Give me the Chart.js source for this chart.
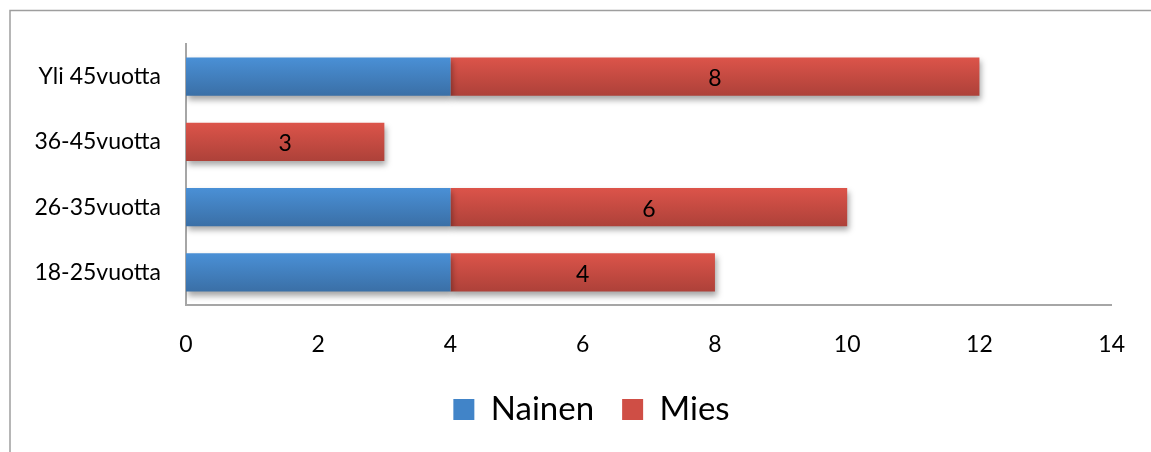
<!DOCTYPE html>
<html>
<head>
<meta charset="utf-8">
<script src="https://cdn.jsdelivr.net/npm/chart.js@4"></script>
<style>
  html, body { margin: 0; padding: 0; background: #fff; }
  #wrap { width: 1151px; height: 452px; }
</style>
</head>
<body>
<div id="wrap"><canvas id="c"></canvas></div>
<script>
// age groups, top to bottom as in the picture
var labels = ['Yli 45vuotta', '36-45vuotta', '26-35vuotta', '18-25vuotta'];
var nainen = [4, 0, 4, 4];
var mies = [8, 3, 6, 4];
var xTicks = [0, 2, 4, 6, 8, 10, 12, 14];

var BAR_PCT = 0.59;

// vertical gradient for each bar, worked out from the category scale
function barGradient(top, bottom) {
  return function(ctx) {
    var chart = ctx.chart;
    var y = chart.scales && chart.scales.y;
    if (!y || ctx.dataIndex === undefined) return top;
    var c = y.getPixelForValue(ctx.dataIndex);
    var h = (y.height / labels.length) * BAR_PCT / 2;
    var g = chart.ctx.createLinearGradient(0, c - h, 0, c + h);
    g.addColorStop(0, top);
    g.addColorStop(1, bottom);
    return g;
  };
}

// outer frame of the chart box
var framePlugin = {
  id: 'frame',
  beforeDraw: function(chart) {
    var ctx = chart.ctx;
    ctx.save();
    ctx.strokeStyle = '#9e9e9e';
    ctx.lineWidth = 1.5;
    ctx.strokeRect(10, 10.5, 2000, 2000);
    ctx.restore();
  }
};

// legend is centred on the whole frame, not the canvas, so nudge it right
var legendShift = {
  id: 'legendShift',
  afterLayout: function(chart) {
    if (!chart.legend) return;
    chart.legend.left += 26;
    chart.legend.right += 26;
  }
};

// soft shadow under the bars
var shadowPlugin = {
  id: 'barShadow',
  beforeDatasetsDraw: function(chart) {
    var ctx = chart.ctx;
    ctx.save();
    ctx.shadowColor = 'rgba(0,0,0,0.35)';
    ctx.shadowBlur = 6;
    ctx.shadowOffsetX = 2;
    ctx.shadowOffsetY = 4;
  },
  afterDatasetsDraw: function(chart) {
    chart.ctx.restore();
  }
};

// value labels on the Mies bars only
var valuePlugin = {
  id: 'values',
  afterDatasetsDraw: function(chart) {
    var ctx = chart.ctx;
    var meta = chart.getDatasetMeta(1);
    ctx.save();
    ctx.fillStyle = '#000';
    ctx.font = '23px Lato';
    ctx.textAlign = 'center';
    ctx.textBaseline = 'middle';
    meta.data.forEach(function(bar, i) {
      var v = mies[i];
      if (!v) return;
      var x = (bar.x + bar.base) / 2;
      ctx.fillText(String(v), x, bar.y + 2);
    });
    ctx.restore();
  }
};

new Chart(document.getElementById('c'), {
  type: 'bar',
  data: {
    labels: labels,
    datasets: [{
      label: 'Nainen',
      data: nainen,
      backgroundColor: barGradient('#4a90d6', '#3a6fa6')
    }, {
      label: 'Mies',
      data: mies,
      backgroundColor: barGradient('#dc544a', '#ad4139')
    }]
  },
  options: {
    indexAxis: 'y',
    responsive: true,
    maintainAspectRatio: false,
    animation: false,
    datasets: { bar: { categoryPercentage: 1, barPercentage: BAR_PCT, borderWidth: 0 } },
    layout: { padding: { left: 10, right: 30, top: 44, bottom: 16 } },
    plugins: {
      tooltip: { enabled: false },
      legend: {
        position: 'bottom',
        labels: {
          color: '#000',
          font: { family: 'Lato', size: 33 },
          boxWidth: 21,
          boxHeight: 21,
          padding: 28,
          generateLabels: function(chart) {
            var cols = ['#4184c8', '#cf4e45'];
            return chart.data.datasets.map(function(ds, i) {
              return { text: ds.label, fillStyle: cols[i], strokeStyle: cols[i], lineWidth: 0, datasetIndex: i, fontColor: '#000' };
            });
          }
        }
      }
    },
    scales: {
      x: {
        stacked: true,
        min: 0,
        max: 14,
        afterBuildTicks: function(s) { s.ticks = xTicks.map(function(v) { return { value: v }; }); },
        grid: { display: false, drawTicks: false },
        border: { display: true, color: '#a6a6a6', width: 2 },
        ticks: { color: '#000', font: { family: 'Lato', size: 23 }, padding: 26 },
        afterFit: function(s) { s.height = 60; }
      },
      y: {
        stacked: true,
        grid: { display: false, drawTicks: false },
        border: { display: true, color: '#a6a6a6', width: 2 },
        ticks: { color: '#000', font: { family: 'Lato', size: 23 }, padding: 25 },
        afterFit: function(s) { s.width = 176; }
      }
    }
  },
  plugins: [framePlugin, legendShift, shadowPlugin, valuePlugin]
});
</script>
</body>
</html>
